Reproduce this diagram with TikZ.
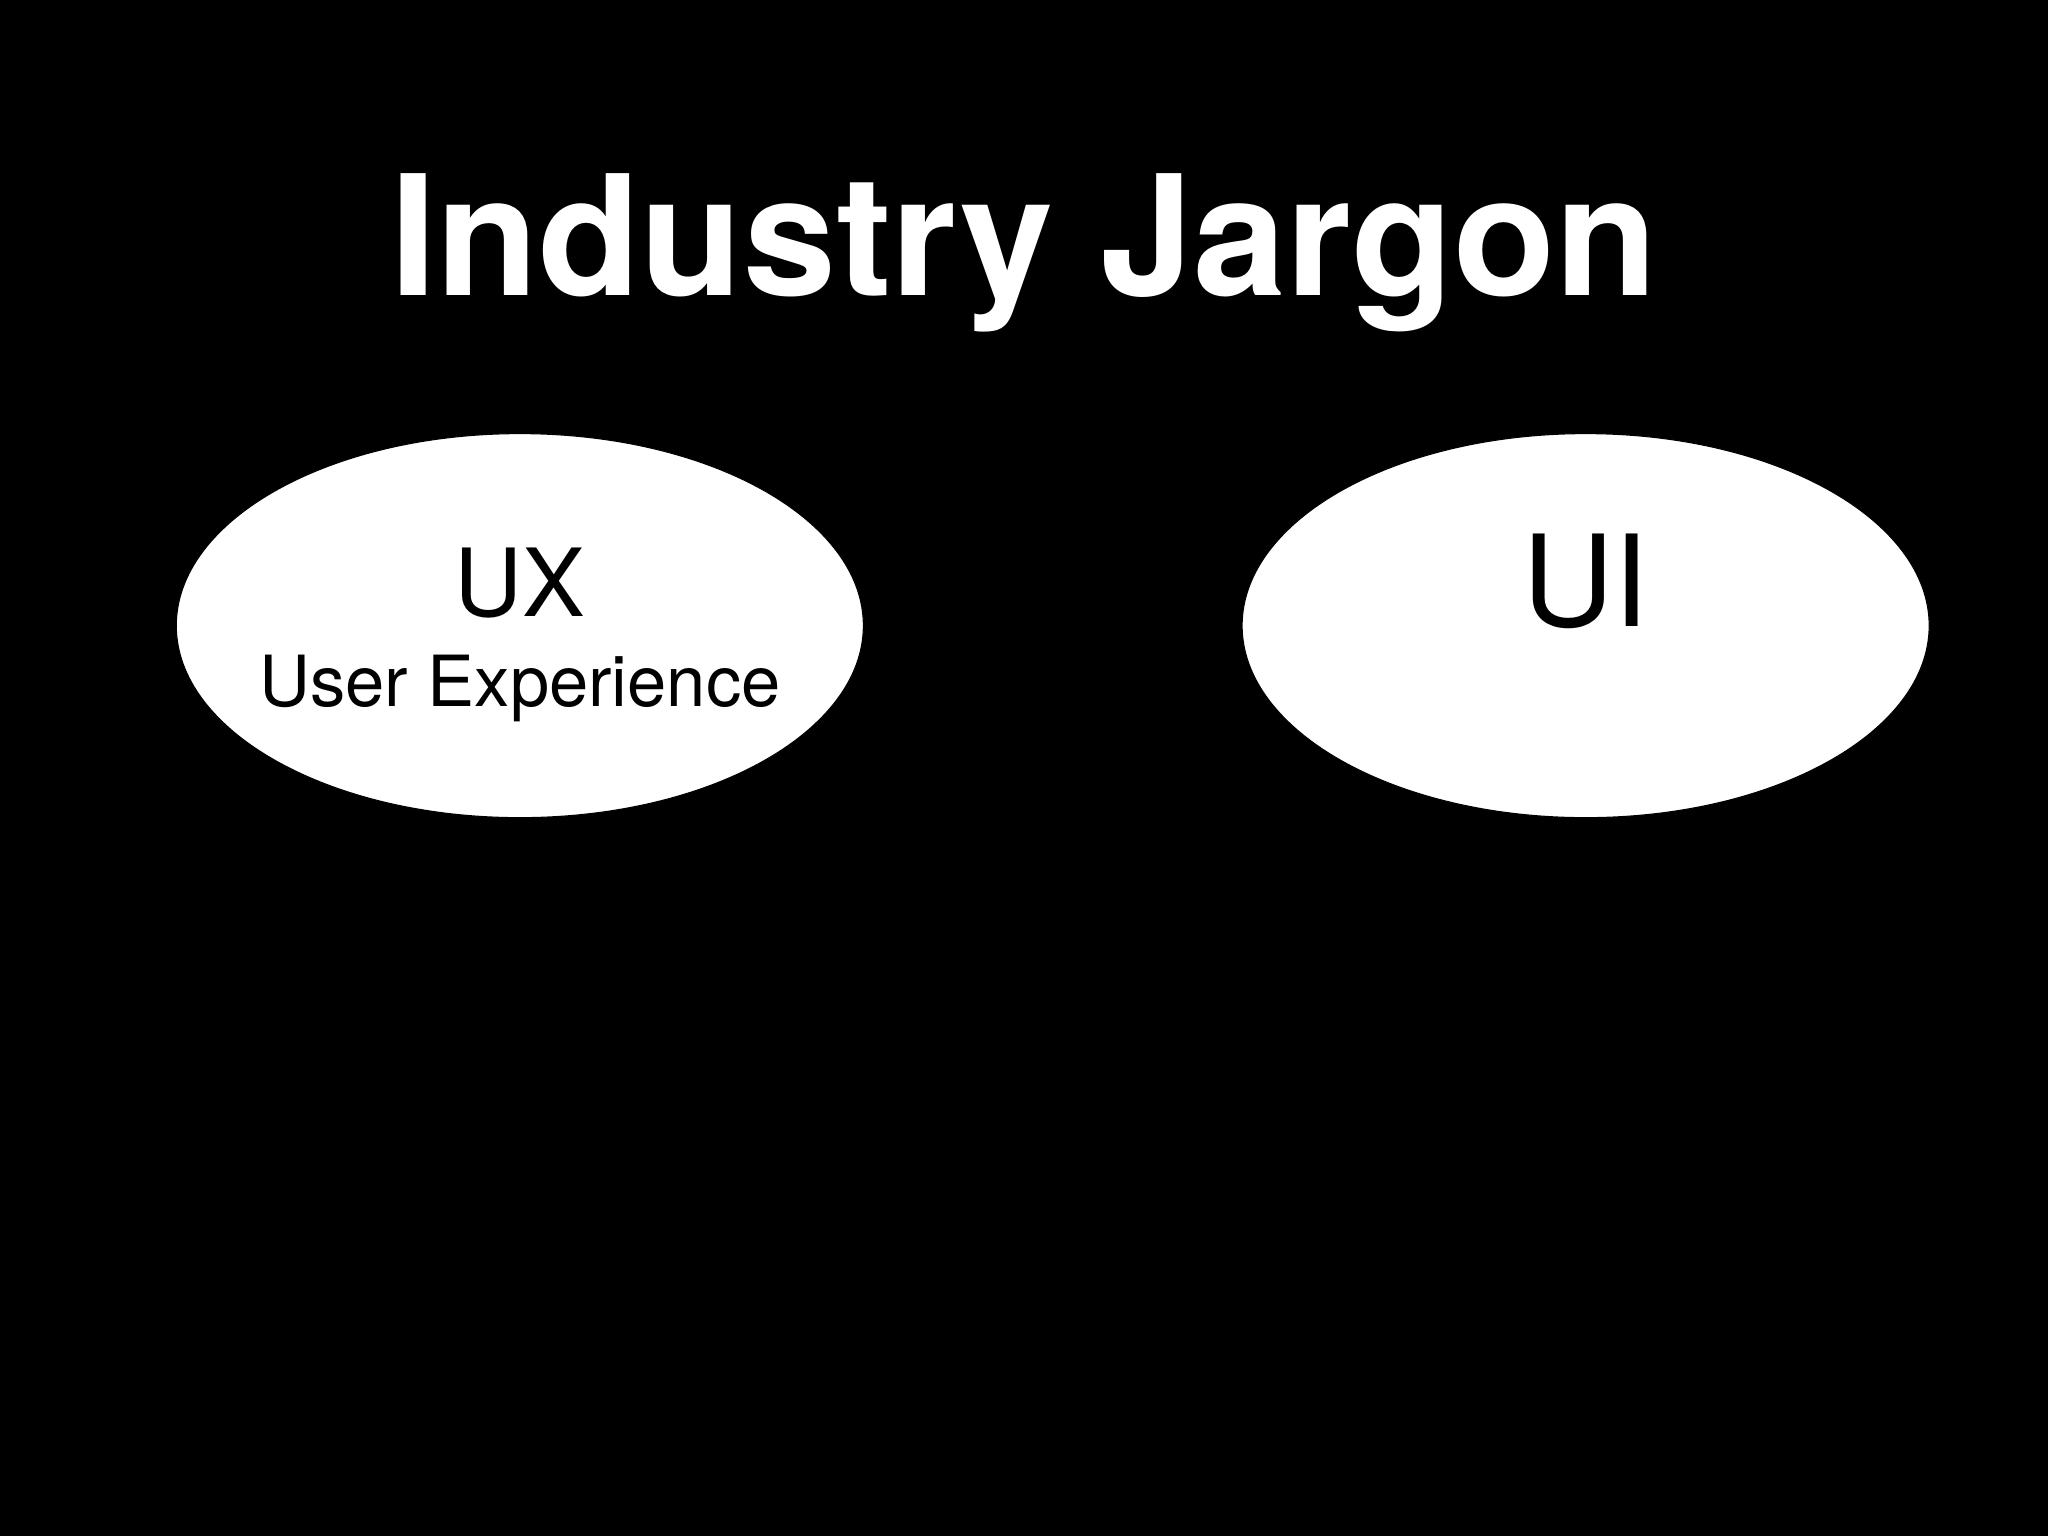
\documentclass[tikz,border=0pt]{standalone}
\usepackage{fontspec}
\setmainfont{TeX Gyre Heros}
\usetikzlibrary{shapes.geometric}
\begin{document}
\begin{tikzpicture}[x=0.5pt,y=-0.5pt,
  bubble/.style={ellipse,fill=white,draw=black,minimum width=263pt,minimum height=147pt,inner sep=0pt}]
\fill[black] (0,0) rectangle (1568,1176);
\useasboundingbox (0,0) rectangle (1568,1176);
\node[text=white,font=\fontsize{64}{70}\selectfont\bfseries,anchor=base] (title) at (784,226) {Industry Jargon};
\node[bubble] (ux) at (398,479) {};
\node[bubble] (ui) at (1214,479) {};
\node[anchor=base,font=\fontsize{36}{40}\selectfont] (uxt) at (398,472) {UX};
\node[anchor=base,font=\fontsize{27}{30}\selectfont] (uxs) at (398,541) {User Experience};
\node[anchor=base,font=\fontsize{48.6}{52}\selectfont] (uit) at (1214,480) {UI};
\end{tikzpicture}
\end{document}
